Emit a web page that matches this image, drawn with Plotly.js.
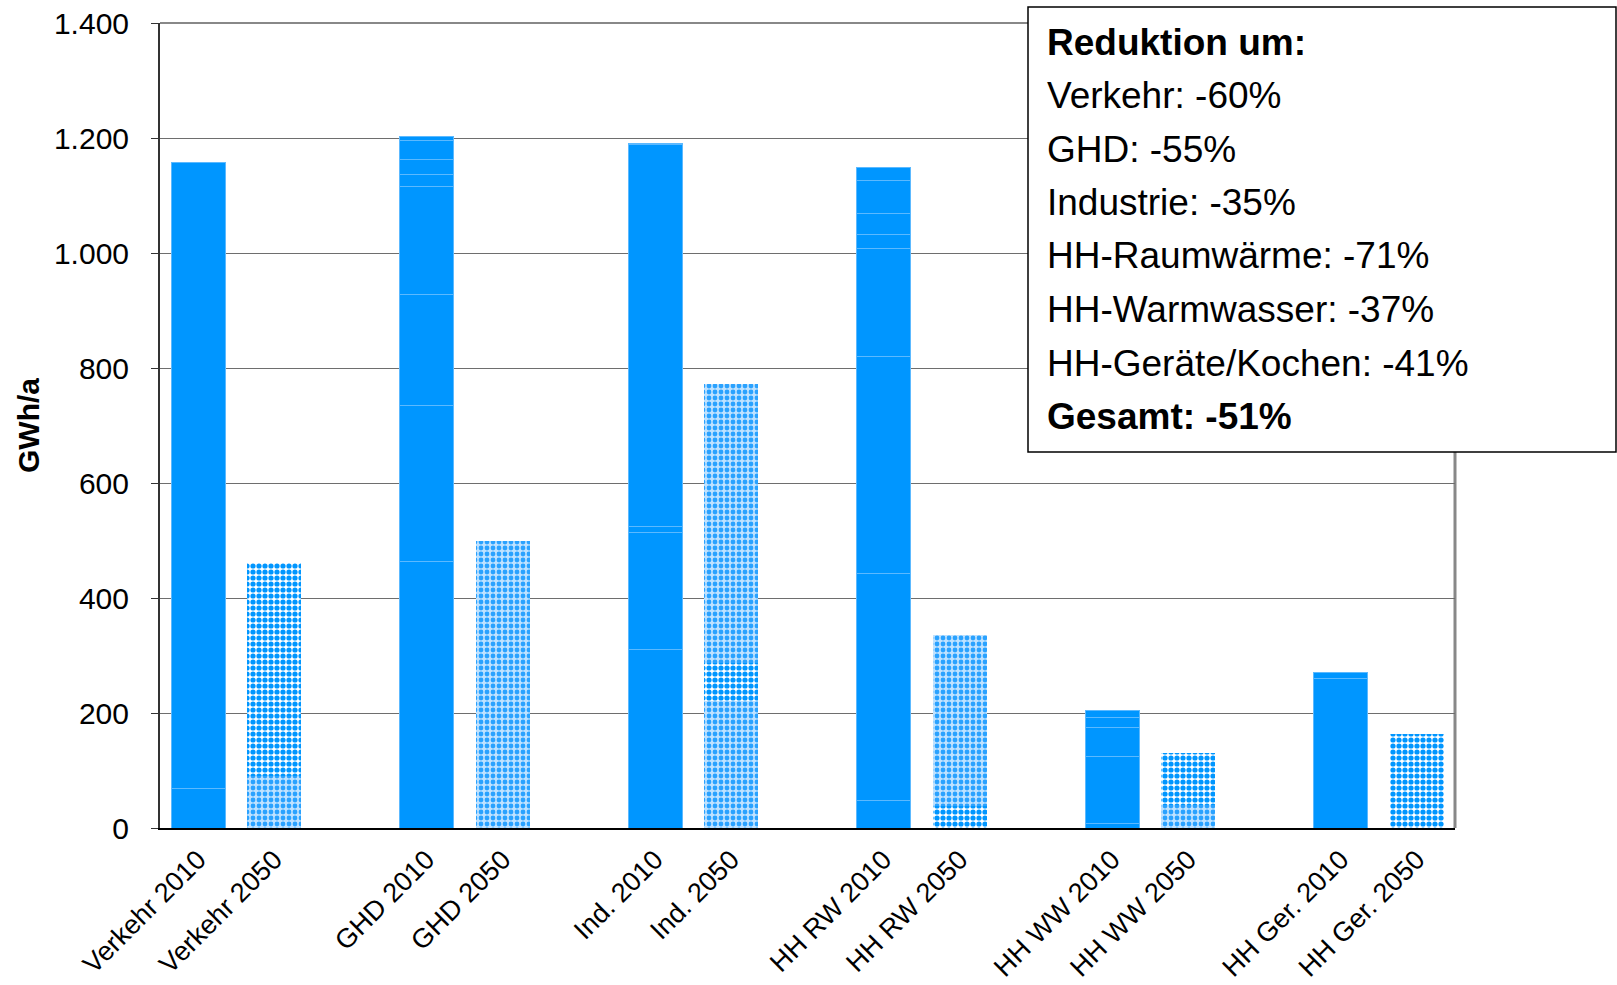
<!DOCTYPE html>
<html>
<head>
<meta charset="utf-8">
<script src="https://cdn.plot.ly/plotly-3.0.1.min.js"></script>
<style>html,body{margin:0;padding:0;background:#fff;}#chart{width:1617px;height:985px;}</style>
</head>
<body>
<div id="chart"></div>
<script>
// Categories (blank entries are the gaps between the pairs)
const categories = ['Verkehr 2010', 'Verkehr 2050', ' ', 'GHD 2010', 'GHD 2050', '  ',
  'Ind. 2010', 'Ind. 2050', '   ', 'HH RW 2010', 'HH RW 2050', '    ',
  'HH WW 2010', 'HH WW 2050', '     ', 'HH Ger. 2010', 'HH Ger. 2050'];

// Cumulative tops of the stacked segments of every bar (GWh/a)
const verkehr2010 = [68, 1157];
const verkehr2050 = [90, 461];
const ghd2010 = [464, 734, 928, 1115, 1136, 1162, 1196, 1203];
const ghd2050 = [499];
const ind2010 = [310, 514, 524, 1188, 1190];
const ind2050 = [221, 287, 772];
const hhrw2010 = [48, 442, 820, 1008, 1032, 1069, 1126, 1149];
const hhrw2050 = [38, 335];
const hhww2010 = [8, 124, 174, 193, 204];
const hhww2050 = [40, 130];
const hhger2010 = [260, 271];
const hhger2050 = [163];

// Fill style of every segment of the 2050 bars
const verkehr2050Fill = ['soft', 'crisp'];
const ghd2050Fill = ['soft'];
const ind2050Fill = ['soft', 'crisp', 'soft'];
const hhrw2050Fill = ['crisp', 'soft'];
const hhww2050Fill = ['soft', 'crisp'];
const hhger2050Fill = ['crisp'];

// Text box
const boxTitle = 'Reduktion um:';
const boxLines = ['Verkehr: -60%', 'GHD: -55%', 'Industrie: -35%', 'HH-Raumwärme: -71%',
  'HH-Warmwasser: -37%', 'HH-Geräte/Kochen: -41%'];
const boxTotal = 'Gesamt: -51%';

const yTitle = 'GWh/a';

const BLUE = '#0096FF';
const FONT = 'Arial, "Liberation Sans", sans-serif';

const bars2010 = [
  ['Verkehr 2010', verkehr2010], ['GHD 2010', ghd2010], ['Ind. 2010', ind2010],
  ['HH RW 2010', hhrw2010], ['HH WW 2010', hhww2010], ['HH Ger. 2010', hhger2010]
];
const bars2050 = [
  ['Verkehr 2050', verkehr2050, verkehr2050Fill], ['GHD 2050', ghd2050, ghd2050Fill],
  ['Ind. 2050', ind2050, ind2050Fill], ['HH RW 2050', hhrw2050, hhrw2050Fill],
  ['HH WW 2050', hhww2050, hhww2050Fill], ['HH Ger. 2050', hhger2050, hhger2050Fill]
];

const fills = {
  crisp: {shape: '.', fgcolor: BLUE, bgcolor: '#ffffff', size: 6, solidity: 0.6, fillmode: 'replace'},
  soft: {shape: '.', fgcolor: '#2aa2ff', bgcolor: '#bfe2ff', size: 6, solidity: 0.5, fillmode: 'replace'}
};

const traces = [];
bars2010.forEach(([cat, tops]) => {
  let prev = 0;
  tops.forEach(t => {
    traces.push({
      type: 'bar', x: [cat], y: [t - prev], showlegend: false, hoverinfo: 'skip',
      marker: {color: BLUE, line: {color: '#5cb9ff', width: 1}}
    });
    prev = t;
  });
});
bars2050.forEach(([cat, tops, fl]) => {
  let prev = 0;
  tops.forEach((t, i) => {
    traces.push({
      type: 'bar', x: [cat], y: [t - prev], showlegend: false, hoverinfo: 'skip',
      marker: {color: '#ffffff', pattern: fills[fl[i]], line: {width: 0}}
    });
    prev = t;
  });
});

// plot area in pixels
const L = 160, R = 1455, T = 23, B = 828;
const px = x => (x - L) / (R - L);
const py = y => (B - y) / (B - T);

const annotations = [];
const allLines = [boxTitle].concat(boxLines, [boxTotal]);
allLines.forEach((s, i) => {
  const bold = (i === 0 || i === allLines.length - 1);
  annotations.push({
    xref: 'paper', yref: 'paper', x: px(1045), y: py(42 + 53.5 * i),
    xanchor: 'left', yanchor: 'middle', showarrow: false,
    text: bold ? '<b>' + s + '</b>' : s,
    font: {family: FONT, size: 37, color: '#000'}
  });
});

const layout = {
  width: 1617, height: 985,
  margin: {l: L, r: 1617 - R, t: T, b: 985 - B},
  paper_bgcolor: '#fff', plot_bgcolor: '#fff',
  barmode: 'stack', bargap: 0.29,
  separators: ',.',
  font: {family: FONT, color: '#000'},
  xaxis: {
    type: 'category', categoryorder: 'array', categoryarray: categories,
    tickangle: -45, tickfont: {size: 27, color: '#000'},
    showline: true, linecolor: '#000', linewidth: 2, ticks: '',
    showgrid: false, ticklabelstandoff: 3, fixedrange: true
  },
  yaxis: {
    range: [0, 1400], dtick: 200, tick0: 0, separatethousands: true,
    tickfont: {size: 30, color: '#000'},
    showline: true, linecolor: '#333', linewidth: 2,
    ticks: 'outside', ticklen: 7, tickcolor: '#333', tickwidth: 1,
    showgrid: true, gridcolor: '#6e6e6e', gridwidth: 1,
    zeroline: false, ticklabelstandoff: 16,
    title: {text: '<b>' + yTitle + '</b>', font: {size: 30, color: '#000'}, standoff: 5}
  },
  shapes: [
    {type: 'line', xref: 'paper', yref: 'paper', x0: 0, x1: 1, y0: 1, y1: 1,
     line: {color: '#888', width: 2}, layer: 'below'},
    {type: 'line', xref: 'paper', yref: 'paper', x0: 1, x1: 1, y0: 0, y1: 1,
     line: {color: '#888', width: 3}, layer: 'below'},
    {type: 'rect', xref: 'paper', yref: 'paper',
     x0: px(1028), x1: px(1616), y0: py(452), y1: py(7),
     fillcolor: '#fff', line: {color: '#000', width: 1.5}, layer: 'above'}
  ],
  annotations: annotations
};

Plotly.newPlot('chart', traces, layout, {displayModeBar: false, staticPlot: true});
</script>
</body>
</html>
